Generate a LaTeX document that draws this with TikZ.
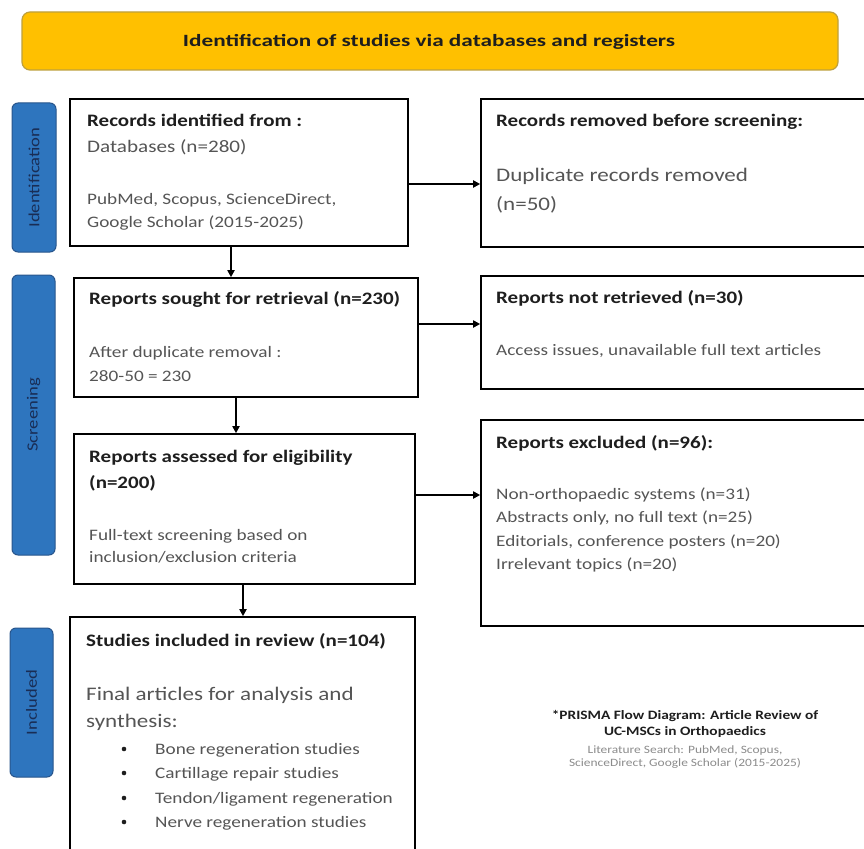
\documentclass[tikz,border=0pt]{standalone}
\usepackage{fontspec}
\setmainfont[FakeStretch=1.2]{Carlito}
\newfontfamily\bannerfont[FakeStretch=1.35]{Carlito}
\usetikzlibrary{arrows.meta}
\definecolor{banner}{RGB}{255,192,0}
\definecolor{bannerline}{RGB}{190,160,60}
\definecolor{sidefill}{RGB}{46,117,190}
\definecolor{sideline}{RGB}{40,85,140}
\definecolor{sidetext}{RGB}{25,45,85}
\definecolor{darktext}{RGB}{30,30,30}
\definecolor{greytext}{RGB}{85,85,85}
\definecolor{lighttext}{RGB}{140,140,140}
\tikzset{
  box/.style={draw=black, line width=1.6pt, fill=white, inner sep=0pt},
  sidebox/.style={draw=sideline, line width=1pt, fill=sidefill, rounded corners=6pt, inner sep=0pt},
  sidelabel/.style={rotate=90, text=sidetext, font=\fontsize{15.5}{18}\selectfont},
  head/.style={anchor=base west, inner sep=0pt, text=darktext, font=\bfseries\fontsize{17.5}{21}\selectfont},
  body/.style={anchor=base west, inner sep=0pt, text=greytext, font=\fontsize{16}{19}\selectfont},
  bigbody/.style={anchor=base west, inner sep=0pt, text=greytext, font=\fontsize{19.2}{23}\selectfont},
  flow/.style={line width=2.2pt, -{Triangle[length=7pt,width=7pt]}},
}
\begin{document}
\begin{tikzpicture}[x=1pt,y=-1pt]
\useasboundingbox (0,0) rectangle (864,848);
\clip (0,0) rectangle (864,848);
\fill[white] (0,0) rectangle (864,848);
% banner
\node[draw=bannerline, line width=1.2pt, fill=banner, rounded corners=8pt, minimum width=816pt, minimum height=58pt, inner sep=0pt] (banner) at (430,41) {};
\node[text=darktext, font=\bannerfont\bfseries\fontsize{17.2}{20}\selectfont] (bannertxt) at (429,42) {Identification of studies via databases and registers};
% side boxes
\node[sidebox, minimum width=44pt, minimum height=149pt] (sid) at (34,177.5) {};
\node[sidelabel] (sidt) at (34,177.5) {Identification};
\node[sidebox, minimum width=43pt, minimum height=280pt] (sscr) at (33.5,415) {};
\node[sidelabel] (sscrt) at (33.5,415) {Screening};
\node[sidebox, minimum width=43pt, minimum height=149pt] (sinc) at (31.5,702.5) {};
\node[sidelabel] (sinct) at (31.5,702.5) {Included};
% boxes
\node[box, minimum width=338pt, minimum height=147pt] (A) at (239,172.5) {};
\node[box, minimum width=430pt, minimum height=148pt] (B) at (696,173) {};
\node[box, minimum width=344pt, minimum height=119pt] (C) at (246,337.5) {};
\node[box, minimum width=430pt, minimum height=113pt] (D) at (696,332.5) {};
\node[box, minimum width=341pt, minimum height=150pt] (E) at (244.5,509) {};
\node[box, minimum width=430pt, minimum height=206pt] (F) at (696,523) {};
\node[box, minimum width=345pt, minimum height=260pt] (G) at (242.5,747) {};
% texts A
\node[head] (a1) at (87,126) {Records identified from :};
\node[body, font=\fontsize{17.6}{21}\selectfont] (a2) at (87,152) {Databases (n=280)};
\node[body] (a3) at (87,204) {PubMed, Scopus, ScienceDirect,};
\node[body] (a4) at (87,227) {Google Scholar (2015-2025)};
% texts B
\node[head] (b1) at (496,126) {Records removed before screening:};
\node[bigbody] (b2) at (496,181) {Duplicate records removed};
\node[bigbody] (b3) at (496,210) {(n=50)};
% texts C
\node[head] (c1) at (89,304) {Reports sought for retrieval (n=230)};
\node[body] (c2) at (89,357) {After duplicate removal :};
\node[body] (c3) at (89,381) {280-50 = 230};
% texts D
\node[head] (d1) at (496,303) {Reports not retrieved (n=30)};
\node[body] (d2) at (496,355) {Access issues, unavailable full text articles};
% texts E
\node[head] (e1) at (89,462) {Reports assessed for eligibility};
\node[head] (e2) at (89,488) {(n=200)};
\node[body] (e3) at (89,540) {Full-text screening based on};
\node[body] (e4) at (89,562) {inclusion/exclusion criteria};
% texts F
\node[head] (f1) at (496,448) {Reports excluded (n=96):};
\node[body] (f2) at (496,499) {Non-orthopaedic systems (n=31)};
\node[body] (f3) at (496,522) {Abstracts only, no full text (n=25)};
\node[body] (f4) at (496,546) {Editorials, conference posters (n=20)};
\node[body] (f5) at (496,569) {Irrelevant topics (n=20)};
% texts G
\node[head] (g1) at (86,646) {Studies included in review (n=104)};
\node[bigbody] (g2) at (86,700) {Final articles for analysis and};
\node[bigbody] (g3) at (86,727) {synthesis:};
\foreach \yy/\tt [count=\i] in {754/{Bone regeneration studies}, 778/{Cartillage repair studies}, 803/{Tendon/ligament regeneration}, 827/{Nerve regeneration studies}}{
  \fill[darktext] (124,\yy-5) circle (2.3pt);
  \node[body] (gb\i) at (155,\yy) {\tt};
}
% caption
\node[align=center, text=darktext, font=\bfseries\fontsize{12.8}{16}\selectfont, inner sep=0pt] (cap1) at (685,724) {*PRISMA Flow Diagram: Article Review of\\UC-MSCs in Orthopaedics};
\node[align=center, text=lighttext, font=\fontsize{11.2}{13}\selectfont, inner sep=0pt] (cap2) at (685,757) {Literature Search: PubMed, Scopus,\\ScienceDirect, Google Scholar (2015-2025)};
% arrow guide coordinates
\coordinate (yab) at (0,184);
\coordinate (ycd) at (0,324);
\coordinate (yef) at (0,495);
\coordinate (xac) at (231,0);
\coordinate (xce) at (236,0);
\coordinate (xeg) at (243,0);
% arrows
\draw[flow] (A.east |- yab) -- (B.west |- yab);
\draw[flow] (xac |- A.south) -- (xac |- C.north);
\draw[flow] (C.east |- ycd) -- (D.west |- ycd);
\draw[flow] (xce |- C.south) -- (xce |- E.north);
\draw[flow] (E.east |- yef) -- (F.west |- yef);
\draw[flow] (xeg |- E.south) -- (xeg |- G.north);
\end{tikzpicture}
\end{document}
